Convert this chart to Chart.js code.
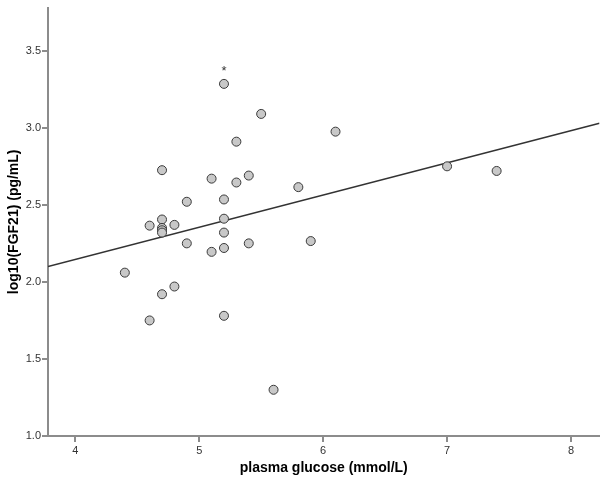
<!DOCTYPE html>
<html>
<head>
<meta charset="utf-8">
<script src="https://cdn.jsdelivr.net/npm/chart.js@4"></script>
<style>
  html, body { margin: 0; padding: 0; background: #fff; overflow: hidden; }
  #wrap { width: 605px; height: 485px; }
</style>
</head>
<body>
<div id="wrap"><canvas id="scatter"></canvas></div>
<script>
// plasma glucose (mmol/L) vs log10(FGF21) (pg/mL)
const glucose = [4.4, 4.6, 4.6, 4.7, 4.7, 4.7, 4.7, 4.7, 4.7, 4.8, 4.8, 4.9, 4.9,
                 5.1, 5.1, 5.2, 5.2, 5.2, 5.2, 5.2, 5.2, 5.3, 5.3, 5.4, 5.4, 5.5,
                 5.6, 5.8, 5.9, 6.1, 7.0, 7.4];
const logFGF21 = [2.06, 1.75, 2.365, 2.725, 2.405, 2.35, 2.335, 2.32, 1.92, 2.37, 1.97, 2.52, 2.25,
                  2.67, 2.195, 3.285, 2.535, 2.41, 2.32, 2.22, 1.78, 2.91, 2.645, 2.69, 2.25, 3.09,
                  1.30, 2.615, 2.265, 2.975, 2.75, 2.72];

// fit line (linear)
const fitIntercept = 1.31;
const fitSlope = 0.209;

const xTicks = [4, 5, 6, 7, 8];
const yTicks = [1.0, 1.5, 2.0, 2.5, 3.0, 3.5];
const xRange = [3.78, 8.23];
const yRange = [1.0, 3.78];

// outlier marker
const markers = [{ x: 5.2, y: 3.285, text: '*' }];

const points = glucose.map((g, i) => ({ x: g, y: logFGF21[i] }));
const fitPoints = xRange.map(x => ({ x: x, y: fitIntercept + fitSlope * x }));

const axisColor = '#8c8c8c';

const markerPlugin = {
    id: 'markers',
    afterDatasetsDraw(chart) {
        const ctx = chart.ctx;
        const xs = chart.scales.x, ys = chart.scales.y;
        ctx.save();
        ctx.fillStyle = '#333';
        ctx.font = '13px "Liberation Sans", Arial, sans-serif';
        ctx.textAlign = 'center';
        ctx.textBaseline = 'middle';
        markers.forEach(m => {
            ctx.fillText(m.text, xs.getPixelForValue(m.x), ys.getPixelForValue(m.y) - 12);
        });
        ctx.restore();
    }
};

new Chart(document.getElementById('scatter').getContext('2d'), {
    type: 'scatter',
    data: {
        datasets: [{
            label: 'fit',
            type: 'line',
            data: fitPoints,
            borderColor: '#333',
            borderWidth: 1.5,
            pointRadius: 0,
            fill: false,
            order: 2
        }, {
            label: 'subjects',
            data: points,
            backgroundColor: '#c8c8c8',
            borderColor: '#3a3a3a',
            borderWidth: 1,
            pointRadius: 4.5,
            order: 1
        }]
    },
    options: {
        responsive: true,
        maintainAspectRatio: false,
        animation: false,
        layout: { padding: { top: 4, right: 0, left: 0, bottom: 0 } },
        plugins: {
            legend: { display: false },
            tooltip: { enabled: false }
        },
        scales: {
            x: {
                type: 'linear',
                min: xRange[0],
                max: xRange[1],
                afterBuildTicks: s => { s.ticks = xTicks.map(v => ({ value: v })); },
                afterFit: s => { s.height = 49; },
                ticks: {
                    color: '#333',
                    font: { family: '"Liberation Sans", Arial, sans-serif', size: 11 },
                    padding: 2,
                    callback: v => String(v)
                },
                grid: { drawOnChartArea: false, drawTicks: true, tickLength: 6, color: axisColor, lineWidth: 2 },
                border: { display: true, color: axisColor, width: 2 },
                title: {
                    display: true,
                    text: 'plasma glucose (mmol/L)',
                    color: '#000',
                    font: { family: '"Liberation Sans", Arial, sans-serif', size: 14, weight: 'bold' },
                    padding: { top: 4, bottom: 8 }
                }
            },
            y: {
                type: 'linear',
                min: yRange[0],
                max: yRange[1],
                afterBuildTicks: s => { s.ticks = yTicks.map(v => ({ value: v })); },
                afterFit: s => { s.width = 48; },
                ticks: {
                    color: '#333',
                    font: { family: '"Liberation Sans", Arial, sans-serif', size: 11 },
                    padding: 1,
                    callback: v => Number(v).toFixed(1)
                },
                grid: { drawOnChartArea: false, drawTicks: true, tickLength: 6, color: axisColor, lineWidth: 2 },
                border: { display: true, color: axisColor, width: 2 },
                title: {
                    display: true,
                    text: 'log10(FGF21) (pg/mL)',
                    color: '#000',
                    font: { family: '"Liberation Sans", Arial, sans-serif', size: 14, weight: 'bold' },
                    padding: { top: 6, bottom: 4 }
                }
            }
        }
    },
    plugins: [markerPlugin]
});
</script>
</body>
</html>
